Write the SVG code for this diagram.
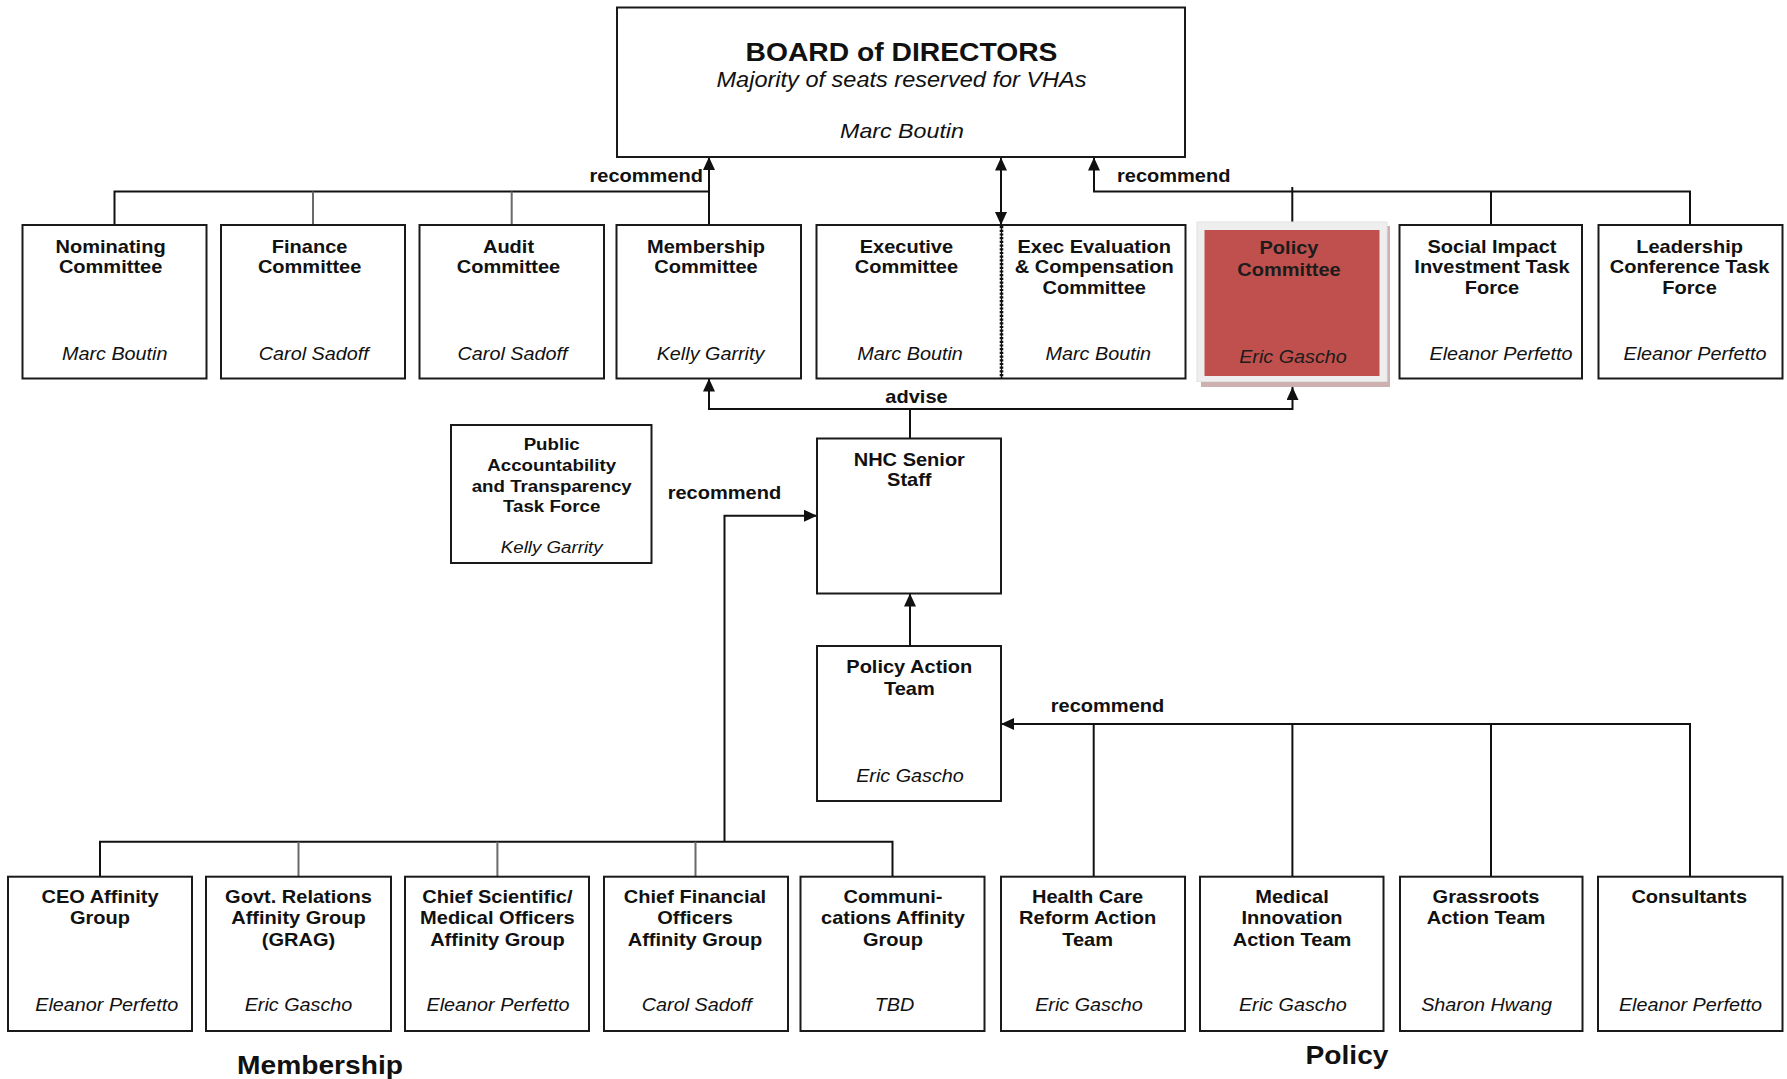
<svg xmlns="http://www.w3.org/2000/svg" width="1787" height="1079" viewBox="0 0 1787 1079">
<defs>
<style>
text{font-family:"Liberation Sans",Arial,sans-serif;fill:#111;text-anchor:middle}
.t{font-weight:bold;font-size:18.2px}
.n{font-style:italic;font-size:18px}
.p{font-weight:bold;font-size:17px}
.pn{font-style:italic;font-size:17px}
.lbl{font-weight:bold;font-size:18.2px}
.big{font-weight:bold;font-size:25.7px}
.box{fill:#fff;stroke:#1a1a1a;stroke-width:2}
.c{fill:none;stroke:#111;stroke-width:2}
.cg{fill:none;stroke:#6a6a6a;stroke-width:2}
</style>
<marker id="ah" viewBox="0 0 13 12" refX="13" refY="6" markerWidth="13" markerHeight="12" markerUnits="userSpaceOnUse" orient="auto-start-reverse"><path d="M0,0 L13,6 L0,12 z" fill="#111"/></marker>
</defs>
<rect width="1787" height="1079" fill="#fff"/>

<g id="connectors">
<path class="c" d="M114.5 225 V191.5 H709"/>
<path class="cg" d="M313 191.5 V225 M511.7 191.5 V225"/>
<path class="c" d="M709 225 V157" marker-end="url(#ah)"/>
<path class="c" d="M1001 157.5 V225" marker-start="url(#ah)" marker-end="url(#ah)"/>
<path class="c" d="M1094 157.5 V191.5 H1690 V225" marker-start="url(#ah)"/>
<path class="c" d="M1491 191.5 V225 M1292.3 187 V222"/>
<path class="c" d="M709 378.5 V409 H1292.5 V387" marker-start="url(#ah)" marker-end="url(#ah)"/>
<path class="c" d="M910 409 V438.5"/>
<path class="c" d="M910 646 V593.5" marker-end="url(#ah)"/>
<path class="c" d="M100 876.7 V841.7 H892.5 V876.7"/>
<path class="cg" d="M298.5 841.7 V876.7 M497.4 841.7 V876.7 M695.5 841.7 V876.7"/>
<path class="c" d="M724.5 841.7 V515.7 H817" marker-end="url(#ah)"/>
<path class="c" d="M1690 876.7 V724 H1001" marker-end="url(#ah)"/>
<path class="c" d="M1093.7 724 V876.7 M1292.4 724 V876.7 M1491 724 V876.7"/>
<text class="lbl" style="text-anchor:end" transform="translate(703 0) scale(1.1 1)" y="182">recommend</text>
<text class="lbl" style="text-anchor:start" transform="translate(1117 0) scale(1.1 1)" y="182">recommend</text>
<text class="lbl" transform="translate(916.5 0) scale(1.1 1)" y="403">advise</text>
<text class="lbl" style="text-anchor:start" transform="translate(667.7 0) scale(1.1 1)" y="499">recommend</text>
<text class="lbl" style="text-anchor:start" transform="translate(1050.8 0) scale(1.1 1)" y="712">recommend</text>
</g>

<g id="board">
<rect class="box" x="617" y="7.5" width="568" height="149.5"/>
<text class="big" transform="translate(901.5 0) scale(1.1 1)" y="61">BOARD of DIRECTORS</text>
<text style="font-style:italic;font-size:21.4px" transform="translate(901.5 0) scale(1.1 1)" y="87">Majority of seats reserved for VHAs</text>
<text style="font-style:italic;font-size:21.1px" transform="translate(902 0) scale(1.1 1)" y="138">Marc Boutin</text>
</g>

<g id="nominating">
<rect class="box" x="22.5" y="225" width="184" height="153.5"/>
<text class="t" transform="translate(110.6 0) scale(1.1 1)" y="253">Nominating</text>
<text class="t" transform="translate(110.6 0) scale(1.1 1)" y="273.5">Committee</text>
<text class="n" transform="translate(114.7 0) scale(1.1 1)" y="360">Marc Boutin</text>
</g>
<g id="finance">
<rect class="box" x="221" y="225" width="184" height="153.5"/>
<text class="t" transform="translate(309.6 0) scale(1.1 1)" y="253">Finance</text>
<text class="t" transform="translate(309.6 0) scale(1.1 1)" y="273.5">Committee</text>
<text class="n" transform="translate(313.8 0) scale(1.1 1)" y="360">Carol Sadoff</text>
</g>
<g id="audit">
<rect class="box" x="419.5" y="225" width="184.5" height="153.5"/>
<text class="t" transform="translate(508.5 0) scale(1.1 1)" y="253">Audit</text>
<text class="t" transform="translate(508.5 0) scale(1.1 1)" y="273.5">Committee</text>
<text class="n" transform="translate(512.5 0) scale(1.1 1)" y="360">Carol Sadoff</text>
</g>
<g id="membership">
<rect class="box" x="616.5" y="225" width="184.5" height="153.5"/>
<text class="t" transform="translate(706 0) scale(1.1 1)" y="253">Membership</text>
<text class="t" transform="translate(706 0) scale(1.1 1)" y="273.5">Committee</text>
<text class="n" transform="translate(710.5 0) scale(1.1 1)" y="360">Kelly Garrity</text>
</g>
<g id="executive">
<path class="box" d="M1001 225 H816.5 V378.5 H1001"/>
<text class="t" transform="translate(906.4 0) scale(1.1 1)" y="253">Executive</text>
<text class="t" transform="translate(906.4 0) scale(1.1 1)" y="273.5">Committee</text>
<text class="n" transform="translate(910 0) scale(1.1 1)" y="360">Marc Boutin</text>
</g>
<g id="exec-evaluation">
<path class="box" d="M1001 225 H1185.5 V378.5 H1001"/>
<path d="M1001.5 225 V378.5" fill="none" stroke="#111" stroke-width="1.2"/>
<path d="M1001.5 226 V378.5" fill="none" stroke="#111" stroke-width="3.6" stroke-dasharray="2.2 1.5"/>
<text class="t" transform="translate(1094.2 0) scale(1.1 1)" y="253">Exec Evaluation</text>
<text class="t" transform="translate(1094.2 0) scale(1.1 1)" y="273.5">&amp; Compensation</text>
<text class="t" transform="translate(1094.2 0) scale(1.1 1)" y="294.3">Committee</text>
<text class="n" transform="translate(1098.3 0) scale(1.1 1)" y="360">Marc Boutin</text>
</g>
<g id="policy-committee">
<rect x="1201" y="226" width="189" height="161" fill="#cdb0b0"/>
<rect x="1197" y="222" width="190" height="159.5" fill="#eeeeee" stroke="#e2e2e2" stroke-width="1"/>
<rect x="1204.5" y="230" width="175" height="146" fill="#c0504d"/>
<text class="t" style="fill:#1c1c1c" transform="translate(1289 0) scale(1.1 1)" y="254">Policy</text>
<text class="t" style="fill:#1c1c1c" transform="translate(1289 0) scale(1.1 1)" y="275.7">Committee</text>
<text class="n" style="fill:#1c1c1c" transform="translate(1293 0) scale(1.1 1)" y="363.3">Eric Gascho</text>
</g>
<g id="social-impact">
<rect class="box" x="1399.5" y="225" width="182.5" height="153.5"/>
<text class="t" transform="translate(1492 0) scale(1.1 1)" y="253">Social Impact</text>
<text class="t" transform="translate(1492 0) scale(1.1 1)" y="273.5">Investment Task</text>
<text class="t" transform="translate(1492 0) scale(1.1 1)" y="294.3">Force</text>
<text class="n" transform="translate(1501 0) scale(1.1 1)" y="360">Eleanor Perfetto</text>
</g>
<g id="leadership">
<rect class="box" x="1598.5" y="225" width="184" height="153.5"/>
<text class="t" transform="translate(1689.6 0) scale(1.1 1)" y="253">Leadership</text>
<text class="t" transform="translate(1689.6 0) scale(1.1 1)" y="273.5">Conference Task</text>
<text class="t" transform="translate(1689.6 0) scale(1.1 1)" y="294.3">Force</text>
<text class="n" transform="translate(1695 0) scale(1.1 1)" y="360">Eleanor Perfetto</text>
</g>

<g id="public-accountability">
<rect class="box" x="451" y="425" width="200.5" height="138"/>
<text class="p" transform="translate(551.7 0) scale(1.1 1)" y="450">Public</text>
<text class="p" transform="translate(551.7 0) scale(1.1 1)" y="470.7">Accountability</text>
<text class="p" transform="translate(551.7 0) scale(1.1 1)" y="491.7">and Transparency</text>
<text class="p" transform="translate(551.7 0) scale(1.1 1)" y="511.7">Task Force</text>
<text class="pn" transform="translate(551.7 0) scale(1.1 1)" y="552.7">Kelly Garrity</text>
</g>
<g id="nhc-senior-staff">
<rect class="box" x="817" y="438.5" width="184" height="155"/>
<text class="t" transform="translate(909.3 0) scale(1.1 1)" y="465.7">NHC Senior</text>
<text class="t" transform="translate(909.3 0) scale(1.1 1)" y="486">Staff</text>
</g>
<g id="policy-action-team">
<rect class="box" x="817" y="646" width="184" height="155"/>
<text class="t" transform="translate(909.3 0) scale(1.1 1)" y="673.3">Policy Action</text>
<text class="t" transform="translate(909.3 0) scale(1.1 1)" y="695">Team</text>
<text class="n" transform="translate(910 0) scale(1.1 1)" y="782.3">Eric Gascho</text>
</g>

<g id="ceo-affinity">
<rect class="box" x="8" y="876.7" width="184" height="154.3"/>
<text class="t" transform="translate(100 0) scale(1.1 1)" y="903.3">CEO Affinity</text>
<text class="t" transform="translate(100 0) scale(1.1 1)" y="924">Group</text>
<text class="n" transform="translate(106.7 0) scale(1.1 1)" y="1010.7">Eleanor Perfetto</text>
</g>
<g id="govt-relations">
<rect class="box" x="206" y="876.7" width="185" height="154.3"/>
<text class="t" transform="translate(298.5 0) scale(1.1 1)" y="903.3">Govt. Relations</text>
<text class="t" transform="translate(298.5 0) scale(1.1 1)" y="924">Affinity Group</text>
<text class="t" transform="translate(298.5 0) scale(1.1 1)" y="946">(GRAG)</text>
<text class="n" transform="translate(298.5 0) scale(1.1 1)" y="1010.7">Eric Gascho</text>
</g>
<g id="chief-scientific">
<rect class="box" x="405" y="876.7" width="184" height="154.3"/>
<text class="t" transform="translate(497.4 0) scale(1.1 1)" y="903.3">Chief Scientific/</text>
<text class="t" transform="translate(497.4 0) scale(1.1 1)" y="924">Medical Officers</text>
<text class="t" transform="translate(497.4 0) scale(1.1 1)" y="946">Affinity Group</text>
<text class="n" transform="translate(498 0) scale(1.1 1)" y="1010.7">Eleanor Perfetto</text>
</g>
<g id="chief-financial">
<rect class="box" x="604" y="876.7" width="184" height="154.3"/>
<text class="t" transform="translate(695 0) scale(1.1 1)" y="903.3">Chief Financial</text>
<text class="t" transform="translate(695 0) scale(1.1 1)" y="924">Officers</text>
<text class="t" transform="translate(695 0) scale(1.1 1)" y="946">Affinity Group</text>
<text class="n" transform="translate(696.8 0) scale(1.1 1)" y="1010.7">Carol Sadoff</text>
</g>
<g id="communications">
<rect class="box" x="800.5" y="876.7" width="184" height="154.3"/>
<text class="t" transform="translate(893 0) scale(1.1 1)" y="903.3">Communi-</text>
<text class="t" transform="translate(893 0) scale(1.1 1)" y="924">cations Affinity</text>
<text class="t" transform="translate(893 0) scale(1.1 1)" y="946">Group</text>
<text class="n" transform="translate(894.5 0) scale(1.1 1)" y="1010.7">TBD</text>
</g>
<g id="health-care-reform">
<rect class="box" x="1001" y="876.7" width="184" height="154.3"/>
<text class="t" transform="translate(1087.6 0) scale(1.1 1)" y="903.3">Health Care</text>
<text class="t" transform="translate(1087.6 0) scale(1.1 1)" y="924">Reform Action</text>
<text class="t" transform="translate(1087.6 0) scale(1.1 1)" y="946">Team</text>
<text class="n" transform="translate(1089 0) scale(1.1 1)" y="1010.7">Eric Gascho</text>
</g>
<g id="medical-innovation">
<rect class="box" x="1200" y="876.7" width="183.5" height="154.3"/>
<text class="t" transform="translate(1292 0) scale(1.1 1)" y="903.3">Medical</text>
<text class="t" transform="translate(1292 0) scale(1.1 1)" y="924">Innovation</text>
<text class="t" transform="translate(1292 0) scale(1.1 1)" y="946">Action Team</text>
<text class="n" transform="translate(1292.8 0) scale(1.1 1)" y="1010.7">Eric Gascho</text>
</g>
<g id="grassroots">
<rect class="box" x="1400" y="876.7" width="182.5" height="154.3"/>
<text class="t" transform="translate(1486 0) scale(1.1 1)" y="903.3">Grassroots</text>
<text class="t" transform="translate(1486 0) scale(1.1 1)" y="924">Action Team</text>
<text class="n" transform="translate(1486.6 0) scale(1.1 1)" y="1010.7">Sharon Hwang</text>
</g>
<g id="consultants">
<rect class="box" x="1598" y="876.7" width="184.5" height="154.3"/>
<text class="t" transform="translate(1689.2 0) scale(1.1 1)" y="903.3">Consultants</text>
<text class="n" transform="translate(1690.4 0) scale(1.1 1)" y="1010.7">Eleanor Perfetto</text>
</g>

<g id="group-labels">
<text style="font-weight:bold;font-size:25.6px" transform="translate(320 0) scale(1.1 1)" y="1074">Membership</text>
<text style="font-weight:bold;font-size:25.6px" transform="translate(1347 0) scale(1.1 1)" y="1064">Policy</text>
</g>
</svg>
